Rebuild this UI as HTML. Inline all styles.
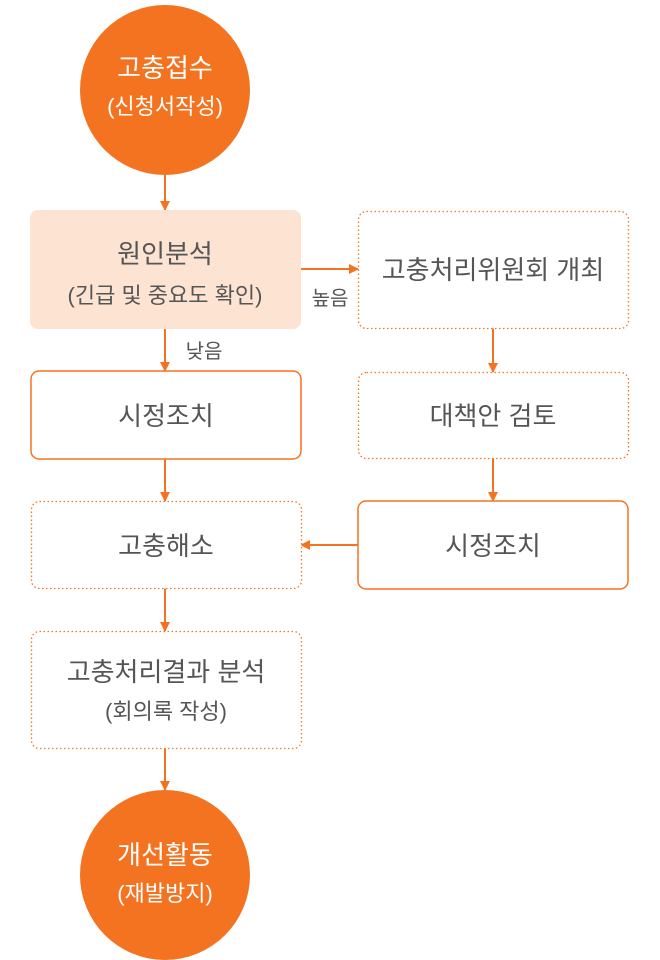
<!DOCTYPE html>
<html><head><meta charset="utf-8"><style>
body{margin:0;background:#fff}
svg{display:block}
text{font-family:"Liberation Sans","Noto Sans CJK KR",sans-serif;text-anchor:middle}
</style></head><body>
<svg width="660" height="960" viewBox="0 0 660 960">
<defs><marker id="a" markerWidth="10" markerHeight="10" refX="9" refY="5" orient="auto" markerUnits="userSpaceOnUse"><path d="M0,0 L10,5 L0,10 Z" fill="#f37321"/></marker></defs>
<g stroke="#f37321" stroke-width="2" fill="none">
<line x1="165" y1="175" x2="165" y2="210" marker-end="url(#a)"/>
<line x1="301" y1="269" x2="358" y2="269" marker-end="url(#a)"/>
<line x1="165" y1="329" x2="165" y2="371" marker-end="url(#a)"/>
<line x1="493" y1="328" x2="493" y2="372" marker-end="url(#a)"/>
<line x1="165" y1="459" x2="165" y2="501" marker-end="url(#a)"/>
<line x1="493" y1="458" x2="493" y2="501" marker-end="url(#a)"/>
<line x1="358" y1="545" x2="301" y2="545" marker-end="url(#a)"/>
<line x1="165" y1="588" x2="165" y2="631" marker-end="url(#a)"/>
<line x1="165" y1="748" x2="165" y2="790" marker-end="url(#a)"/>
</g>
<circle cx="165" cy="90" r="85" fill="#f37321"/>
<circle cx="165" cy="875" r="85" fill="#f37321"/>
<rect x="30" y="210" width="271" height="119" rx="8" fill="#fde3d2"/>
<g fill="#fff" stroke="#f37321" stroke-width="1.5">
<rect x="31" y="371" width="270" height="88" rx="8"/>
<rect x="358" y="501" width="270" height="88" rx="8"/>
</g>
<g fill="#fff" stroke="#f37321" stroke-width="1.3" stroke-dasharray="1.5 2.5">
<rect x="358.5" y="211.5" width="270" height="117" rx="8"/>
<rect x="358.5" y="372.5" width="270" height="86" rx="8"/>
<rect x="31.5" y="501.5" width="270" height="87" rx="8"/>
<rect x="31.5" y="631.5" width="270" height="117" rx="8"/>
</g>
<g fill="#fff">
<text x="165" y="77" font-size="26">고충접수</text>
<text x="165" y="114" font-size="22">(신청서작성)</text>
<text x="165" y="864" font-size="26">개선활동</text>
<text x="165" y="901" font-size="22">(재발방지)</text>
</g>
<g fill="#555">
<text x="165" y="263" font-size="26">원인분석</text>
<text x="165" y="303" font-size="22">(긴급 및 중요도 확인)</text>
<text x="330" y="305" font-size="20">높음</text>
<text x="204" y="358" font-size="20">낮음</text>
<text x="493" y="279" font-size="26">고충처리위원회 개최</text>
<text x="166" y="425" font-size="26">시정조치</text>
<text x="493" y="425" font-size="26">대책안 검토</text>
<text x="166" y="555" font-size="26">고충해소</text>
<text x="493" y="555" font-size="26">시정조치</text>
<text x="166" y="681" font-size="26">고충처리결과 분석</text>
<text x="166" y="719" font-size="22">(회의록 작성)</text>
</g>
</svg>
</body></html>
